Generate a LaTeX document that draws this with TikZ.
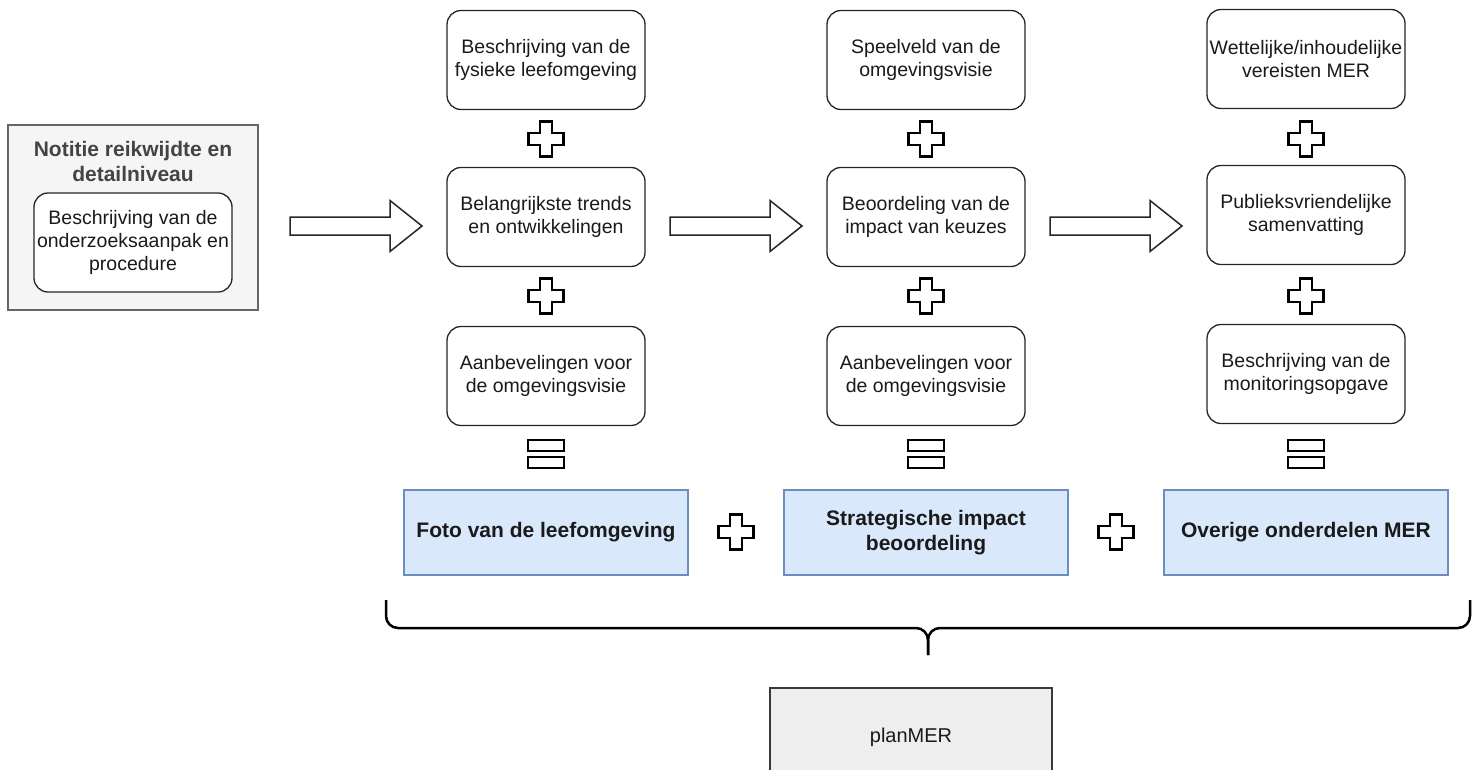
\documentclass[tikz,border=0pt]{standalone}
\usepackage{fontspec}
\setmainfont{Liberation Sans}
\definecolor{bluefill}{HTML}{DAE8FC}
\definecolor{bluedraw}{HTML}{6C8EBF}
\definecolor{grayfill}{HTML}{F5F5F5}
\definecolor{graydraw}{HTML}{666666}
\definecolor{titlegray}{HTML}{444444}
\definecolor{planfill}{HTML}{EEEEEE}
\definecolor{plandraw}{HTML}{36393D}
\definecolor{txt}{HTML}{1A1A1A}
\tikzset{
  rbox/.style={draw=black!85, line width=1.3pt, rounded corners=14pt, fill=white,
    minimum width=198, minimum height=99, align=center, inner sep=0pt, text=txt,
    font=\fontsize{19.5}{23}\selectfont},
  bbox/.style={draw=bluedraw, line width=2pt, fill=bluefill, minimum width=284,
    minimum height=85, align=center, inner sep=0pt, text=txt,
    font=\fontsize{21}{25}\selectfont\bfseries},
  plussign/.pic={\draw[line width=2.4pt, fill=white]
    (-6,-17.5) -- (6,-17.5) -- (6,-6) -- (17.5,-6) -- (17.5,6) -- (6,6) -- (6,17.5)
    -- (-6,17.5) -- (-6,6) -- (-17.5,6) -- (-17.5,-6) -- (-6,-6) -- cycle;},
  eqsign/.pic={\draw[line width=2.4pt, fill=white] (-18,-14) rectangle (18,-3);
    \draw[line width=2.4pt, fill=white] (-18,3) rectangle (18,14);},
  blockarrow/.pic={\draw[line width=1.5pt, draw=black!85, fill=white]
    (0,-9) -- (100,-9) -- (100,-25.5) -- (132,0) -- (100,25.5) -- (100,9) -- (0,9) -- cycle;}
}
\begin{document}
\begin{tikzpicture}[x=1pt, y=-1pt]
\useasboundingbox (0,0) rectangle (1478,769);

% Notitie container
\node[draw=graydraw, line width=2.5pt, fill=grayfill, minimum width=250, minimum height=185, inner sep=0pt] (notitie) at (133,217.5) {};
\node[align=center, text=titlegray, font=\fontsize{21}{25}\selectfont\bfseries] (notitietitle) at (133,161) {Notitie reikwijdte en\\detailniveau};
\node[rbox] (aanpak) at (133,242.5) {Beschrijving van de\\onderzoeksaanpak en\\procedure};

% Column 1
\node[rbox] (c1a) at (546,60) {Beschrijving van de\\fysieke leefomgeving};
\node[rbox] (c1b) at (546,217) {Belangrijkste trends\\en ontwikkelingen};
\node[rbox] (c1c) at (546,376) {Aanbevelingen voor\\de omgevingsvisie};
% Column 2
\node[rbox] (c2a) at (926,60) {Speelveld van de\\omgevingsvisie};
\node[rbox] (c2b) at (926,217) {Beoordeling van de\\impact van keuzes};
\node[rbox] (c2c) at (926,376) {Aanbevelingen voor\\de omgevingsvisie};
% Column 3
\node[rbox] (c3a) at (1306,59) {Wettelijke/inhoudelijke\\vereisten MER};
\node[rbox] (c3b) at (1306,215) {Publieksvriendelijke\\samenvatting};
\node[rbox] (c3c) at (1306,374) {Beschrijving van de\\monitoringsopgave};

% plus / equal signs in columns
\foreach \cx in {546,926,1306} {
  \pic at (\cx,139) {plussign};
  \pic at (\cx,296) {plussign};
  \pic at (\cx,454) {eqsign};
}

% block arrows
\pic at (290,226) {blockarrow};
\pic at (670,226) {blockarrow};
\pic at (1050,226) {blockarrow};

% blue boxes
\node[bbox] (foto) at (546,532.5) {Foto van de leefomgeving};
\node[bbox] (sib) at (926,532.5) {Strategische impact\\beoordeling};
\node[bbox] (overig) at (1306,532.5) {Overige onderdelen MER};
\pic at (736,532) {plussign};
\pic at (1116,532) {plussign};

% brace
\coordinate (bl) at (386,600);
\coordinate (br) at (1470,600);
\coordinate (bm) at (928,628);
\coordinate (btip) at (928,655);
\draw[line width=2.5pt, rounded corners=12pt] (bl) -- (bl |- bm) -- (bm) -- (btip);
\draw[line width=2.5pt, rounded corners=12pt] (br) -- (br |- bm) -- (bm) -- (btip);

% planMER
\node[draw=plandraw, line width=2pt, fill=planfill, minimum width=282, minimum height=98, inner sep=0pt, text=txt, font=\fontsize{20}{23}\selectfont] (planmer) at (911,737) {planMER};
\end{tikzpicture}
\end{document}
